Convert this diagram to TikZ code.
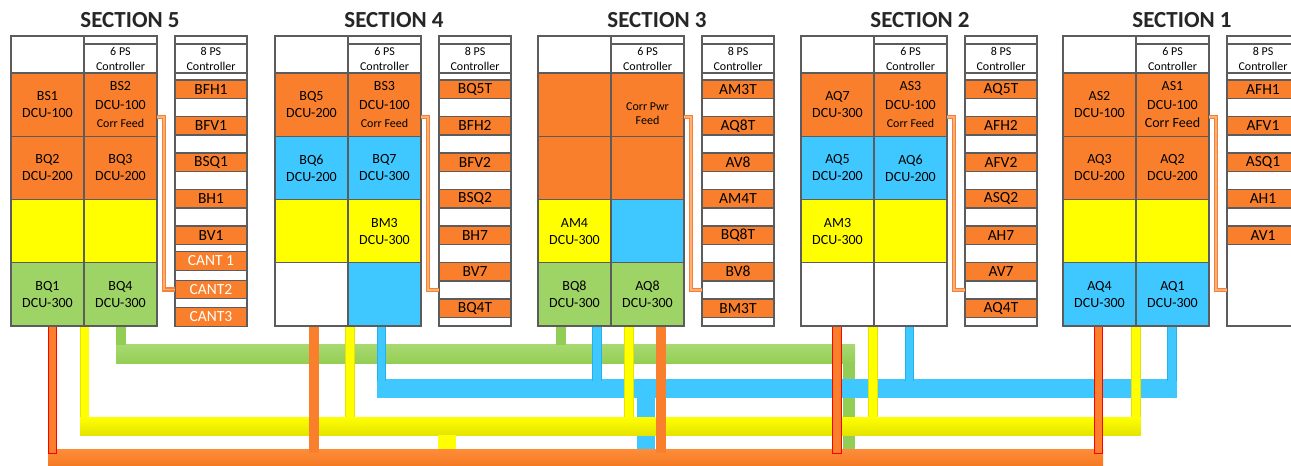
\documentclass[tikz,border=0pt]{standalone}
\usepackage{fontspec}
\setmainfont{Carlito}
\usetikzlibrary{positioning,calc}
\definecolor{PwrOrange}{HTML}{FA7F2C}
\definecolor{OrngTop}{HTML}{FF8C3A}
\definecolor{OrngBot}{HTML}{F47A22}
\definecolor{FeedLight}{HTML}{FCB27E}
\definecolor{SkyBlue}{HTML}{3FC8FF}
\definecolor{BlueEdge}{HTML}{22B3EC}
\definecolor{LimeGreen}{HTML}{9ED365}
\definecolor{GrnTop}{HTML}{A8D972}
\definecolor{GrnBot}{HTML}{94CE55}
\definecolor{GreenWire}{HTML}{92CD56}
\definecolor{BrightYellow}{HTML}{FFFF00}
\definecolor{YellowEdge}{HTML}{E4E400}
\definecolor{CellGray}{HTML}{5C5C5C}
\definecolor{TitleInk}{HTML}{262626}
\newcommand{\feedtxt}[1]{{\fontsize{12}{14}\selectfont #1}}

\begin{document}
\begin{tikzpicture}[x=1pt,y=-1pt,
    sectitle/.style={font=\fontsize{23}{25}\selectfont\bfseries,text=TitleInk,inner sep=0pt},
    cell/.style={draw=CellGray,line width=1.1pt,anchor=north west,inner sep=0pt,outer sep=0pt,minimum width=73pt,minimum height=63.25pt,align=center,font=\fontsize{14}{17}\selectfont},
    orng/.style={cell,fill=PwrOrange},
    blu/.style={cell,fill=SkyBlue},
    yel/.style={cell,fill=BrightYellow},
    grn/.style={cell,fill=LimeGreen},
    blank/.style={cell,fill=white},
    hdr/.style={cell,fill=white,font=\fontsize{12}{15}\selectfont},
    pscol/.style={cell,fill=white,minimum width=72pt,minimum height=290pt},
    slotbox/.style={draw=CellGray,line width=1.1pt,fill=PwrOrange,inner sep=0pt,outer sep=0pt,minimum width=72pt,minimum height=18.5pt,font=\fontsize{15.5}{15.5}\selectfont},
    feed/.style={draw=PwrOrange,line width=1.4pt,double=FeedLight,double distance=1.4pt},
    bus/.style={anchor=north west,inner sep=0pt,outer sep=0pt},
    redwire/.style={draw=red,line width=0.9pt,double=PwrOrange,double distance=7.6pt,line cap=rect},
    orngwire/.style={draw=PwrOrange,line width=10pt},
    yelwire/.style={draw=YellowEdge,line width=0.7pt,double=BrightYellow,double distance=8pt},
    bluwire/.style={draw=BlueEdge,line width=0.8pt,double=SkyBlue,double distance=7.6pt},
    grnwire/.style={draw=GreenWire,line width=10pt}
  ]
  \useasboundingbox[fill=white] (0,0) rectangle (1291,466);

  % cable drops under the cabinets
  \coordinate (w5r) at (52.5,326);
  \coordinate (w5y) at (84.5,326);
  \coordinate (w5g) at (121,326);
  \coordinate (w4o) at (314,326);
  \coordinate (w4y) at (350,326);
  \coordinate (w4b) at (381.5,326);
  \coordinate (w3g) at (561,326);
  \coordinate (w3b) at (597,326);
  \coordinate (w3y) at (629,326);
  \coordinate (w3o) at (660.5,326);
  \coordinate (w2r) at (837,326);
  \coordinate (w2y) at (873,326);
  \coordinate (w2b) at (909.5,326);
  \coordinate (w1r) at (1098.5,326);
  \coordinate (w1y) at (1136,326);
  \coordinate (w1b) at (1172,326);

  % buses
  \node[bus,minimum width=1055pt,minimum height=17pt,top color=OrngTop,bottom color=OrngBot] (obus) at (48,449) {};
  \node[bus,minimum width=739pt,minimum height=19pt,top color=GrnTop,bottom color=GrnBot] (gbus) at (116,344) {};
  \coordinate (gd) at ([xshift=-6pt]gbus.south east);
  \draw[line width=12pt,draw=GreenWire] (gd) -- (gd |- obus.north);
  \node[bus,minimum width=799.5pt,minimum height=19pt,fill=SkyBlue] (bbus) at (377,379) {};
  \coordinate (bd) at (646,0);
  \draw[line width=18pt,draw=SkyBlue] (bd |- bbus.south) -- (bd |- obus.north);
  \node[bus,minimum width=1060.5pt,minimum height=18pt,top color=BrightYellow,bottom color=YellowEdge] (ybus) at (80,417) {};
  \coordinate (yd) at (447,0);
  \draw[line width=18pt,draw=BrightYellow] (yd |- ybus.south) -- (yd |- obus.north);

  \foreach \w in {w5g,w3g} \draw[grnwire] (\w) -- ($(\w |- gbus.north)+(0,1)$);
  \foreach \w in {w4b,w3b,w2b,w1b} \draw[bluwire] (\w) -- ($(\w |- bbus.north)+(0,2)$);
  \foreach \w in {w5y,w4y,w3y,w2y,w1y} \draw[yelwire] (\w) -- (\w |- ybus.north);
  \foreach \w in {w4o,w3o} \draw[orngwire] (\w) -- ($(\w |- obus.north)+(0,4)$);
  \foreach \w in {w5r,w2r,w1r} \draw[redwire] (\w) -- (\w |- obus.north);

  % cabinet frames
  \foreach \s/\xo in {5/11,4/275,3/538,2/801,1/1063}{
    \begin{scope}[shift={(\xo,0)}]
      \node[sectitle] (title-\s) at (119,20) {SECTION \s};
      \node[hdr,minimum height=37pt] (hd-\s) at (0,36) {};
      \node[hdr,minimum height=8pt] (strip-\s) at (73,36) {};
      \node[hdr,minimum height=29pt] (ctl-\s) at (73,44) {6 PS\\Controller};
      \node[pscol] (ps8-\s) at (164,36) {};
      \node[hdr,minimum width=72pt,minimum height=29pt] (pshd-\s) at (164,44) {8 PS\\Controller};
    \end{scope}
  }

  % Section 5
  \begin{scope}[shift={(11,0)}]
    \node[orng] (bs1) at (0,73) {BS1\\DCU-100};
    \node[orng] (bs2) at (73,73) {BS2\\[2pt]DCU-100\\[1pt]\feedtxt{Corr Feed}};
    \node[orng] (bq2) at (0,136.25) {BQ2\\DCU-200};
    \node[orng] (bq3) at (73,136.25) {BQ3\\DCU-200};
    \node[yel] (s5y1) at (0,199.5) {};
    \node[yel] (s5y2) at (73,199.5) {};
    \node[grn] (bq1) at (0,262.75) {BQ1\\DCU-300};
    \node[grn] (bq4) at (73,262.75) {BQ4\\DCU-300};
    \foreach \lab [count=\i from 0] in {BFH1,BFV1,BSQ1,BH1,BV1}
      \node[slotbox] (s5slot\i) at (200,89.25+36.5*\i) {\lab};
    \node[slotbox,text=white] (cant1) at (200,261) {CANT 1};
    \node[slotbox,text=white] (cant2) at (200,289.5) {CANT2};
    \node[slotbox,text=white] (cant3) at (200,317) {CANT3};
    \draw[feed] ([yshift=-12.5pt]bs2.east) -- ++(7,0) |- (cant2.west);
  \end{scope}

  % Section 4
  \begin{scope}[shift={(275,0)}]
    \node[orng] (bq5) at (0,73) {BQ5\\DCU-200};
    \node[orng] (bs3) at (73,73) {BS3\\[2pt]DCU-100\\[1pt]\feedtxt{Corr Feed}};
    \node[blu] (bq6) at (0,136.25) {BQ6\\DCU-200};
    \node[blu] (bq7) at (73,136.25) {BQ7\\DCU-300};
    \node[yel] (s4y1) at (0,199.5) {};
    \node[yel] (bm3) at (73,199.5) {BM3\\DCU-300};
    \node[blank] (s4w1) at (0,262.75) {};
    \node[blu] (s4b1) at (73,262.75) {};
    \foreach \lab [count=\i from 0] in {BQ5T,BFH2,BFV2,BSQ2,BH7,BV7,BQ4T}
      \node[slotbox] (s4slot\i) at (200,89.25+36.5*\i) {\lab};
    \draw[feed] ([yshift=-12.5pt]bs3.east) -- ++(7,0) |- ([yshift=-109pt]ps8-4.west);
  \end{scope}

  % Section 3
  \begin{scope}[shift={(538,0)}]
    \node[orng] (s3o1) at (0,73) {};
    \node[orng] (s3o2) at (73,73) {};
    \node[align=center,font=\fontsize{12}{13.5}\selectfont] (cpf) at ([yshift=-9pt]s3o2.center) {Corr Pwr\\Feed};
    \node[orng] (s3o3) at (0,136.25) {};
    \node[orng] (s3o4) at (73,136.25) {};
    \node[yel] (am4) at (0,199.5) {AM4\\DCU-300};
    \node[blu] (s3b1) at (73,199.5) {};
    \node[grn] (bq8) at (0,262.75) {BQ8\\DCU-300};
    \node[grn] (aq8) at (73,262.75) {AQ8\\DCU-300};
    \foreach \lab [count=\i from 0] in {AM3T,AQ8T,AV8,AM4T,BQ8T,BV8,BM3T}
      \node[slotbox] (s3slot\i) at (200,89.25+36.5*\i) {\lab};
    \draw[feed] ([yshift=-12.5pt]s3o2.east) -- ++(7,0) |- ([yshift=-109pt]ps8-3.west);
  \end{scope}

  % Section 2
  \begin{scope}[shift={(801,0)}]
    \node[orng] (aq7) at (0,73) {AQ7\\DCU-300};
    \node[orng] (as3) at (73,73) {AS3\\[2pt]DCU-100\\[1pt]\feedtxt{Corr Feed}};
    \node[blu] (aq5) at (0,136.25) {AQ5\\DCU-200};
    \node[blu] (aq6) at (73,136.25) {AQ6\\DCU-200};
    \node[yel] (am3) at (0,199.5) {AM3\\DCU-300};
    \node[yel] (s2y1) at (73,199.5) {};
    \node[blank] (s2w1) at (0,262.75) {};
    \node[blank] (s2w2) at (73,262.75) {};
    \foreach \lab [count=\i from 0] in {AQ5T,AFH2,AFV2,ASQ2,AH7,AV7,AQ4T}
      \node[slotbox] (s2slot\i) at (200,89.25+36.5*\i) {\lab};
    \draw[feed] ([yshift=-12.5pt]as3.east) -- ++(7,0) |- ([yshift=-109pt]ps8-2.west);
  \end{scope}

  % Section 1
  \begin{scope}[shift={(1063,0)}]
    \node[orng] (as2) at (0,73) {AS2\\DCU-100};
    \node[orng] (as1) at (73,73) {AS1\\[2pt]DCU-100\\[1pt]Corr Feed};
    \node[orng] (aq3) at (0,136.25) {AQ3\\DCU-200};
    \node[orng] (aq2) at (73,136.25) {AQ2\\DCU-200};
    \node[yel] (s1y1) at (0,199.5) {};
    \node[yel] (s1y2) at (73,199.5) {};
    \node[blu] (aq4) at (0,262.75) {AQ4\\DCU-300};
    \node[blu] (aq1) at (73,262.75) {AQ1\\DCU-300};
    \foreach \lab [count=\i from 0] in {AFH1,AFV1,ASQ1,AH1,AV1}
      \node[slotbox] (s1slot\i) at (200,89.25+36.5*\i) {\lab};
    \draw[feed] ([yshift=-12.5pt]as1.east) -- ++(7,0) |- ([yshift=-109pt]ps8-1.west);
  \end{scope}
\end{tikzpicture}
\end{document}
